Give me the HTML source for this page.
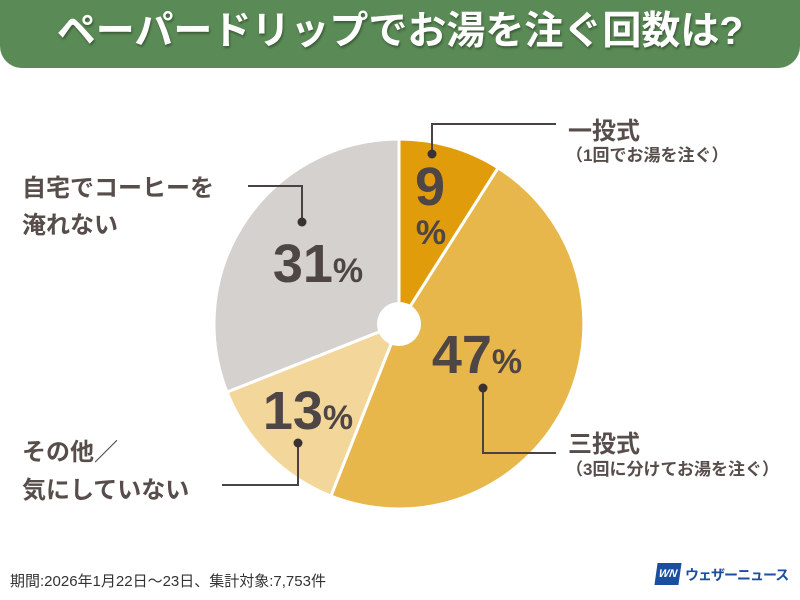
<!DOCTYPE html>
<html><head><meta charset="utf-8"><style>
body{margin:0;width:800px;height:600px;background:#fff;overflow:hidden;position:relative;font-family:"Liberation Sans","Noto Sans CJK JP",sans-serif;}
.hd{position:absolute;left:0;top:0;width:800px;height:68px;background:#5a8a55;border-radius:0 0 22px 22px;color:#fff;font-weight:bold;font-size:39px;text-align:center;line-height:64px;text-shadow:1px 2px 2px rgba(0,0,0,.35);}
.t{position:absolute;color:#574e4b;font-weight:bold;white-space:nowrap;}
</style></head><body>
<div class="hd">ペーパードリップでお湯を注ぐ回数は?</div>
<svg width="800" height="600" style="position:absolute;left:0;top:0">
<g stroke="#fff" stroke-width="3">
<path d="M399,324 L399,139 A185,185 0 0 1 498.1,167.8 Z" fill="#e09c0a"/>
<path d="M399,324 L498.1,167.8 A185,185 0 0 1 330.9,496 Z" fill="#e8b74c"/>
<path d="M399,324 L330.9,496 A185,185 0 0 1 227,392.1 Z" fill="#f3d79a"/>
<path d="M399,324 L227,392.1 A185,185 0 0 1 399,139 Z" fill="#d4d1cf"/>
</g>
<circle cx="399" cy="324" r="22" fill="#fff"/>
<g stroke="#4a4242" stroke-width="2" fill="none">
<polyline points="432,154 432,124 556,124"/>
<polyline points="483,388 483,453 556,453"/>
<polyline points="302,222 302,186 248,186"/>
<polyline points="298,443 298,485 222,485"/>
</g>
<g fill="#3a3232">
<circle cx="432" cy="154" r="4.5"/><circle cx="483" cy="388" r="4.5"/>
<circle cx="302" cy="222" r="4.5"/><circle cx="298" cy="443" r="4.5"/>
</g>
<g font-family="Liberation Sans, sans-serif" font-weight="bold" fill="#4e4545" text-anchor="middle">
<text x="430" y="205" font-size="54">9</text>
<text x="431" y="244" font-size="34">%</text>
<text x="477" y="373" font-size="54">47<tspan font-size="34">%</tspan></text>
<text x="308" y="429" font-size="54">13<tspan font-size="34">%</tspan></text>
<text x="318" y="282" font-size="54">31<tspan font-size="34">%</tspan></text>
</g>
</svg>
<div class="t" style="left:568px;top:111px;font-size:24px">一投式</div>
<div class="t" style="left:566px;top:141px;font-size:17px">（1回でお湯を注ぐ）</div>
<div class="t" style="left:568px;top:424px;font-size:24px">三投式</div>
<div class="t" style="left:566px;top:455px;font-size:17px">（3回に分けてお湯を注ぐ）</div>
<div class="t" style="left:22px;top:170px;font-size:24px;line-height:37px">自宅でコーヒーを<br>淹れない</div>
<div class="t" style="left:22px;top:434px;font-size:24px;line-height:38px">その他／<br>気にしていない</div>
<div class="t" style="left:10px;top:570px;font-size:15px;font-weight:normal;color:#333">期間:2026年1月22日〜23日、集計対象:7,753件</div>
<div style="position:absolute;left:656px;top:563px;width:24px;height:22px;background:#1a4fa0;transform:skewX(-8deg);color:#fff;font:bold italic 11px 'Liberation Sans',sans-serif;line-height:22px;text-align:center">WN</div>
<div class="t" style="left:685px;top:565px;font-size:14px;letter-spacing:-1px;color:#1a4fa0">ウェザーニュース</div>
</body></html>
